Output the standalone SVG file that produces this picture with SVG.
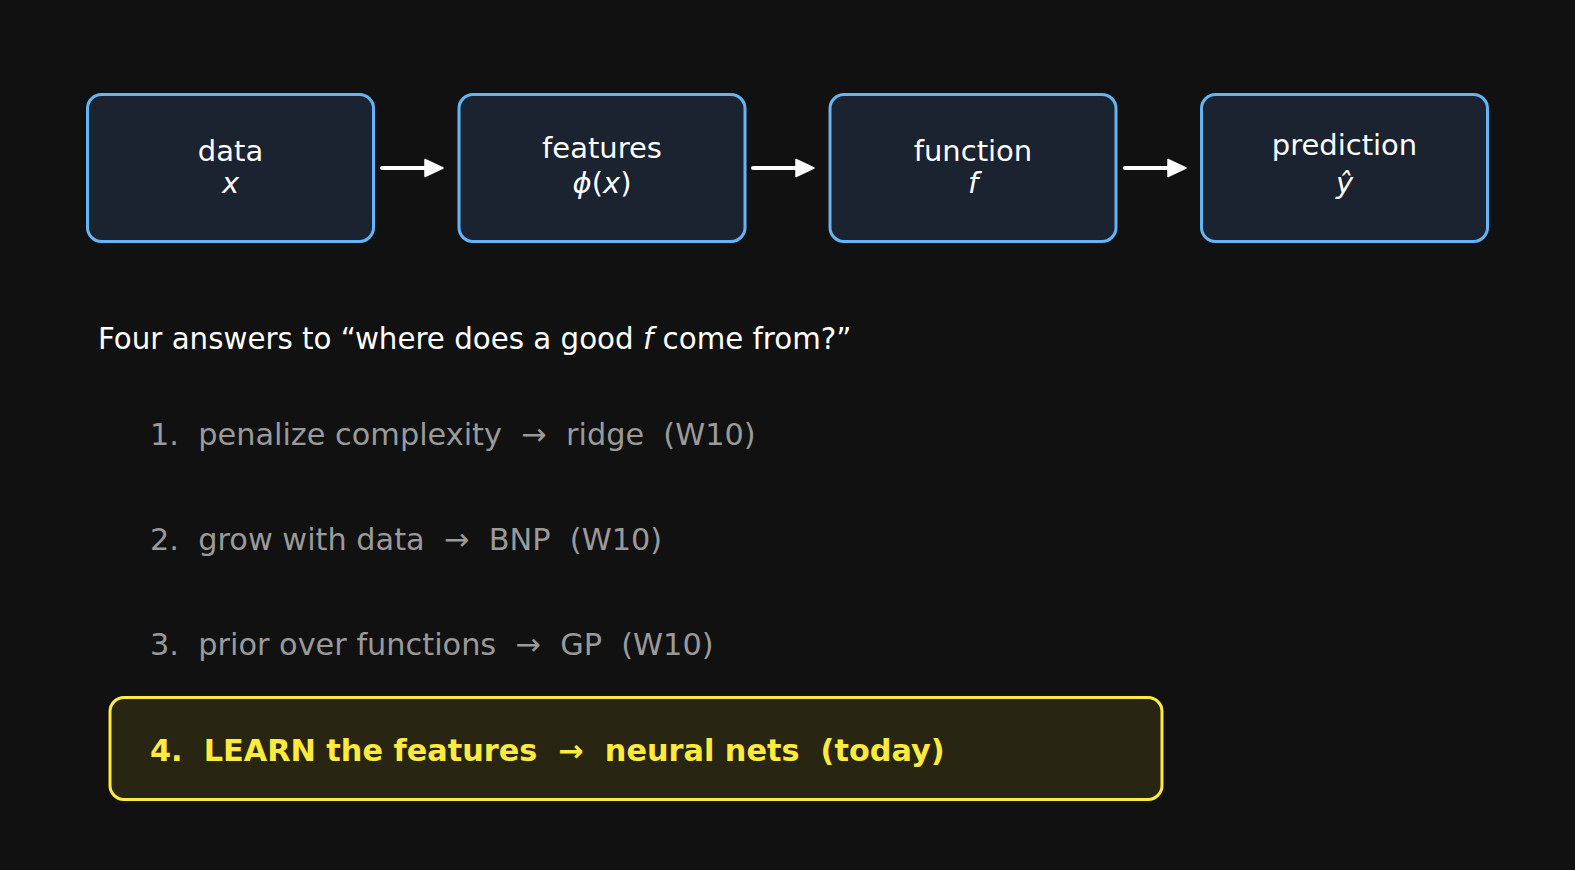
<svg xmlns="http://www.w3.org/2000/svg" width="1575" height="870" viewBox="0 0 1575 870">
  <defs>
    <marker id="ah" markerUnits="userSpaceOnUse" markerWidth="22" markerHeight="22" refX="2" refY="10" orient="auto">
      <path d="M1,1.5 L19,10 L1,18.5 Z" fill="#ffffff" stroke="#ffffff" stroke-width="1.5" stroke-linejoin="round"/>
    </marker>
    <style>
      .box { fill: #1b2230; stroke: #64b5f6; stroke-width: 3; }
      .lbl { font-family: "DejaVu Sans", "Liberation Sans", sans-serif; font-size: 29px; fill: #ffffff; text-anchor: middle; }
      .it { font-style: italic; }
      .title { font-family: "DejaVu Sans", "Liberation Sans", sans-serif; font-size: 29.3px; fill: #ffffff; }
      .item { font-family: "DejaVu Sans", "Liberation Sans", sans-serif; font-size: 30.35px; fill: #9a9a9a; white-space: pre; }
      .hl { font-family: "DejaVu Sans", "Liberation Sans", sans-serif; font-size: 30.3px; font-weight: bold; fill: #ffeb3b; white-space: pre; }
      .conn { stroke: #ffffff; stroke-width: 4; stroke-linecap: round; fill: none; }
    </style>
  </defs>
  <rect x="0" y="0" width="1575" height="870" fill="#111111"/>

  <g id="node-data">
    <rect class="box" x="87.5" y="94.5" width="286" height="147" rx="14"/>
    <text class="lbl" x="230.5" y="161">data</text>
    <text class="lbl it" x="230.5" y="193">x</text>
  </g>
  <g id="node-features">
    <rect class="box" x="459" y="94.5" width="286" height="147" rx="14"/>
    <text class="lbl" x="602" y="158">features</text>
    <text class="lbl" x="602" y="193"><tspan class="it">ϕ</tspan>(<tspan class="it">x</tspan>)</text>
  </g>
  <g id="node-function">
    <rect class="box" x="830" y="94.5" width="286" height="147" rx="14"/>
    <text class="lbl" x="973" y="161">function</text>
    <text class="lbl it" x="973" y="193">f</text>
  </g>
  <g id="node-prediction">
    <rect class="box" x="1201.5" y="94.5" width="286" height="147" rx="14"/>
    <text class="lbl" x="1344.5" y="155">prediction</text>
    <text class="lbl it" x="1344.5" y="193">ŷ</text>
  </g>

  <g id="connectors">
    <line class="conn" x1="382" y1="168" x2="426" y2="168" marker-end="url(#ah)"/>
    <line class="conn" x1="753" y1="168" x2="797" y2="168" marker-end="url(#ah)"/>
    <line class="conn" x1="1125" y1="168" x2="1169" y2="168" marker-end="url(#ah)"/>
  </g>

  <g id="title">
    <text class="title" x="98" y="349">Four answers to “where does a good <tspan class="it">f</tspan> come from?”</text>
  </g>

  <g id="list">
    <text class="item" x="150" y="445">1.  penalize complexity  →  ridge  (W10)</text>
    <text class="item" x="150" y="550">2.  grow with data  →  BNP  (W10)</text>
    <text class="item" x="150" y="655">3.  prior over functions  →  GP  (W10)</text>
  </g>

  <g id="highlight">
    <rect x="110" y="697.5" width="1052" height="102" rx="14" fill="#282612" stroke="#ffeb3b" stroke-width="3"/>
    <text class="hl" x="150" y="761">4.  LEARN the features  →  neural nets  (today)</text>
  </g>
</svg>
